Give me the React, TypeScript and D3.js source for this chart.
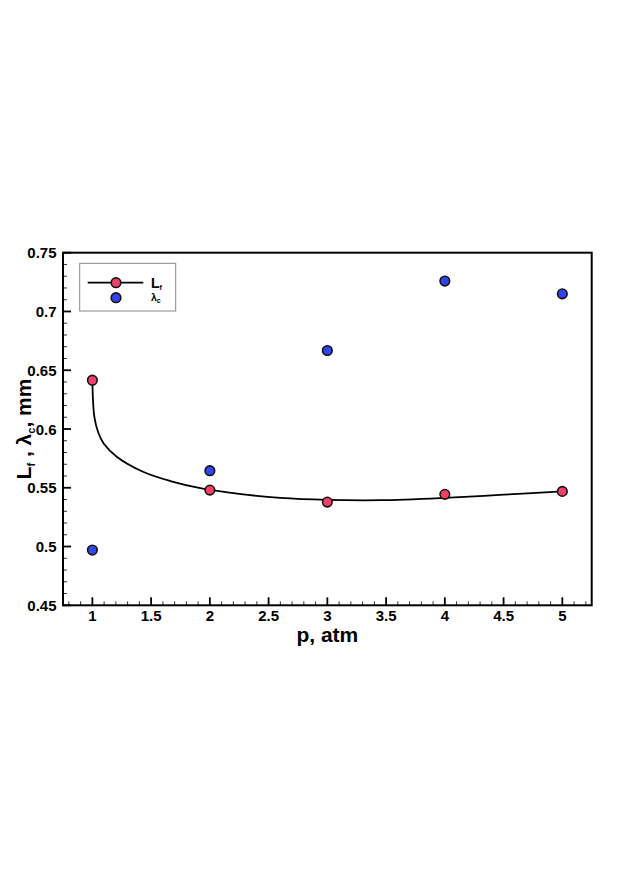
import React from "react";
import * as d3 from "d3";

const pressures = [1, 2, 3, 4, 5];
const lfValues = [0.6415, 0.548, 0.5378, 0.5444, 0.5469];
const lambdaValues = [0.497, 0.5645, 0.6668, 0.7259, 0.715];
const fitP = [1, 1.017, 1.05, 1.096, 1.21, 1.436, 1.664, 1.919, 2.25, 2.6, 3, 3.45, 4, 4.5, 5];
const fitL = [0.6415, 0.6103, 0.597, 0.5876, 0.5762, 0.5634, 0.5557, 0.5497, 0.5448, 0.5414, 0.5397, 0.5394, 0.5414, 0.5441, 0.5469];
const xTicks = [1, 1.5, 2, 2.5, 3, 3.5, 4, 4.5, 5];
const yTicks = [0.45, 0.5, 0.55, 0.6, 0.65, 0.7, 0.75];

const W = 623, H = 880;
const L = 63, R = 591.7, T = 252.7, B = 605.3;
const RED = "#f23f68";
const BLUE = "#3344ee";
const FONT = "'Liberation Sans', Arial, sans-serif";

export default function App() {
  const x = d3.scaleLinear().domain([0.75, 5.25]).range([L, R]);
  const y = d3.scaleLinear().domain([0.45, 0.75]).range([B, T]);
  const line = d3.line<number>().x((_, i) => x(fitP[i])).y((d) => y(d)).curve(d3.curveCatmullRom.alpha(0.5));
  const xMinor = d3.range(8, 53).map((v) => v / 10).filter((v) => Math.abs(v * 2 - Math.round(v * 2)) > 1e-6);
  const yMinor = d3.range(46, 75).map((v) => v / 100).filter((v) => Math.abs(v * 20 - Math.round(v * 20)) > 1e-6);
  const fmt = (v: number) => String(+v.toFixed(2));
  const cy = (T + B) / 2;
  return (
    <svg width={W} height={H} style={{ position: "absolute", left: 0, top: 0, background: "#fff" }} fontFamily={FONT}>
      <rect x={0} y={0} width={W} height={H} fill="#fff" />
      {xMinor.map((v) => (
        <line key={"xm" + v} x1={x(v)} x2={x(v)} y1={B} y2={B - 4} stroke="#333" strokeWidth={1} />
      ))}
      {yMinor.map((v) => (
        <line key={"ym" + v} x1={L} x2={L + 4} y1={y(v)} y2={y(v)} stroke="#333" strokeWidth={1} />
      ))}
      {xTicks.map((v) => (
        <g key={"xt" + v}>
          <line x1={x(v)} x2={x(v)} y1={B} y2={B - 8} stroke="#000" strokeWidth={1.8} />
          <text x={x(v)} y={621} textAnchor="middle" fontSize={15} fontWeight="bold">{fmt(v)}</text>
        </g>
      ))}
      {yTicks.map((v) => (
        <g key={"yt" + v}>
          <line x1={L} x2={L + 8} y1={y(v)} y2={y(v)} stroke="#000" strokeWidth={1.8} />
          <text x={56.5} y={y(v) + 5.5} textAnchor="end" fontSize={15} fontWeight="bold">{fmt(v)}</text>
        </g>
      ))}
      <rect x={L} y={T} width={R - L} height={B - T} fill="none" stroke="#000" strokeWidth={2} />
      <path d={line(fitL) || ""} fill="none" stroke="#000" strokeWidth={1.8} />
      {pressures.map((p, i) => (
        <circle key={"b" + p} cx={x(p)} cy={y(lambdaValues[i])} r={4.8} fill={BLUE} stroke="#111" strokeWidth={1.6} />
      ))}
      {pressures.map((p, i) => (
        <circle key={"r" + p} cx={x(p)} cy={y(lfValues[i])} r={4.8} fill={RED} stroke="#111" strokeWidth={1.6} />
      ))}
      <rect x={79.7} y={263.3} width={96} height={47.7} fill="#fff" stroke="#888" strokeWidth={1} />
      <line x1={87.7} x2={143.3} y1={282.7} y2={282.7} stroke="#000" strokeWidth={1.8} />
      <circle cx={116} cy={282.7} r={4.8} fill={RED} stroke="#111" strokeWidth={1.6} />
      <circle cx={116} cy={297.7} r={4.8} fill={BLUE} stroke="#111" strokeWidth={1.6} />
      <text x={151} y={288} fontSize={14} fontWeight="bold">
        L<tspan fontSize={7} dy={2}>f</tspan>
      </text>
      <text x={151} y={301} fontSize={10.5} fontWeight="bold">
        λ<tspan fontSize={7} dy={2}>c</tspan>
      </text>
      <text x={(L + R) / 2} y={642} textAnchor="middle" fontSize={21} fontWeight="bold">p, atm</text>
      <text transform={`translate(31,${cy}) rotate(-90)`} textAnchor="middle" fontSize={21} fontWeight="bold">
        L<tspan fontSize={11} dy={4}>f</tspan><tspan dy={-4}> , λ</tspan><tspan fontSize={11} dy={4}>c</tspan><tspan dy={-4}>, mm</tspan>
      </text>
    </svg>
  );
}
